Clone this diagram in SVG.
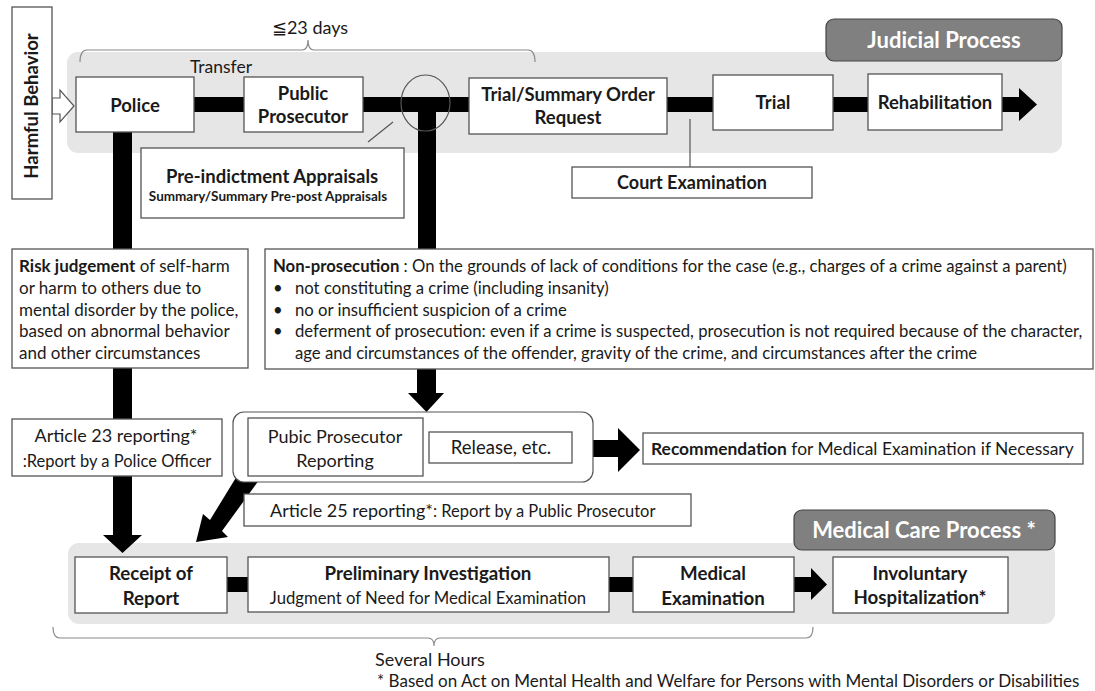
<svg xmlns="http://www.w3.org/2000/svg" width="1095" height="691" viewBox="0 0 1095 691">
<style>
text{font-family:Lato,"Liberation Sans",sans-serif;fill:#1a1a1a}
.b{font-weight:bold}
.box{fill:#fff;stroke:#555;stroke-width:1.3}
.region{fill:#e6e6e6}
.label{fill:#808080;stroke:#444;stroke-width:1.2}
.lt{fill:#fff;font-weight:bold;font-size:22px}
.c{text-anchor:middle}
.br{fill:none;stroke:#8a8a8a;stroke-width:1.2}
.k{fill:#000}
.n{font-size:17px}
.m{font-size:16.7px}
</style>
<rect class="region" x="67" y="52" width="995" height="101" rx="11"/>
<rect class="region" x="68" y="543" width="987" height="81" rx="11"/>
<path class="br" d="M80,62 Q80,50 87,50 L302,50 Q308,50 308,40 Q308,50 314,50 L528,50 Q535,50 535,62"/>
<path class="br" d="M53,627 Q53,638 60,638 L428,638 Q434,638 434,646 Q434,638 440,638 L806,638 Q813,638 813,627"/>
<g id="judicial-label"><rect class="label" x="826" y="19" width="236" height="42" rx="8"/><text class="lt c" x="944" y="48">Judicial Process</text></g>
<g id="medical-label"><rect class="label" x="794" y="510" width="261" height="40" rx="8"/><text class="lt c" x="924" y="538">Medical Care Process *</text></g>
<text x="310" y="34" class="c" font-size="18">≦23 days</text>
<text x="221" y="73" class="c" font-size="17.5">Transfer</text>
<text x="430" y="666" class="c" font-size="18">Several Hours</text>
<text x="377" y="687" font-size="17">* Based on Act on Mental Health and Welfare for Persons with Mental Disorders or Disabilities</text>
<g id="connectors">
<polygon points="52,98 60,98 60,90 74,106 60,122 60,114 52,114" fill="#fff" stroke="#555" stroke-width="1.2"/>
<rect class="k" x="194" y="97" width="50" height="15"/>
<rect class="k" x="363" y="97" width="107" height="15"/>
<rect class="k" x="418" y="104" width="18" height="145"/>
<rect class="k" x="667" y="97" width="46" height="15"/>
<rect class="k" x="833" y="97" width="35" height="15"/>
<polygon class="k" points="1002,97 1019,97 1019,88 1037,104.5 1019,121 1019,112 1002,112"/>
<ellipse cx="425.5" cy="103" rx="24.5" ry="28" fill="none" stroke="#555" stroke-width="1.2"/>
<line x1="368" y1="142" x2="393" y2="122" stroke="#555" stroke-width="1.2"/>
<line x1="690" y1="119" x2="690" y2="167" stroke="#555" stroke-width="1.2"/>
<rect class="k" x="113" y="132" width="19" height="117"/>
<rect class="k" x="113" y="368" width="19" height="52"/>
<polygon class="k" points="417,369 436,369 436,393 444,393 426.5,412 408,393 417,393"/>
<polygon class="k" points="113,476 132,476 132,535 142,535 122.5,553 103,535 113,535"/>
<polygon class="k" points="593,440 618,440 618,428 640,450 618,472 618,457 593,457"/>
<polygon class="k" points="248,458 262,476 222,531 228,537 196,542 203,514 210,520"/>
<rect class="k" x="227" y="577" width="21" height="15"/>
<rect class="k" x="609" y="577" width="24" height="15"/>
<polygon class="k" points="794,577 811,577 811,568 827,584.5 811,600 811,592 794,592"/>
</g>
<g id="harmful"><rect class="box" x="12" y="7" width="40" height="192"/><text class="b c" font-size="18.5" transform="translate(38,106) rotate(-90)">Harmful Behavior</text></g>
<g id="police"><rect class="box" x="76" y="77" width="118" height="55"/><text class="b c" x="135" y="112" font-size="18.5">Police</text></g>
<g id="prosecutor"><rect class="box" x="244" y="77" width="119" height="55"/><text class="b c" x="303" y="100" font-size="18.5">Public</text><text class="b c" x="303" y="123" font-size="18.5">Prosecutor</text></g>
<g id="trial-request"><rect class="box" x="469" y="78" width="198" height="56"/><text class="b c" x="568" y="101" font-size="18.5">Trial/Summary Order</text><text class="b c" x="568" y="124" font-size="18.5">Request</text></g>
<g id="trial"><rect class="box" x="713" y="75" width="120" height="55"/><text class="b c" x="773" y="109" font-size="18.5">Trial</text></g>
<g id="rehab"><rect class="box" x="868" y="74" width="134" height="56"/><text class="b c" x="935" y="109" font-size="18.5">Rehabilitation</text></g>
<g id="court"><rect class="box" x="572" y="167" width="240" height="31"/><text class="b c" x="692" y="189" font-size="18">Court Examination</text></g>
<g id="appraisal"><rect class="box" x="141" y="148" width="263" height="70"/><text class="b c" x="272" y="183" font-size="18.5">Pre-indictment Appraisals</text><text class="b c" x="268" y="201" font-size="13.5">Summary/Summary Pre-post Appraisals</text></g>
<g id="risk"><rect class="box" x="12" y="249" width="236" height="119"/>
<text x="19" y="272" class="n"><tspan class="b">Risk judgement</tspan> of self-harm</text>
<text x="19" y="294" class="n">or harm to others due to</text>
<text x="19" y="316" class="n">mental disorder by the police,</text>
<text x="19" y="337" class="n">based on abnormal behavior</text>
<text x="19" y="359" class="n">and other circumstances</text></g>
<g id="nonpros"><rect class="box" x="265" y="249" width="828" height="120"/>
<text x="273" y="272" class="m"><tspan class="b">Non-prosecution</tspan> : On the grounds of lack of conditions for the case (e.g., charges of a crime against a parent)</text>
<text x="273" y="294" class="m">•</text><text x="295" y="294" class="m">not constituting a crime (including insanity)</text>
<text x="273" y="316" class="m">•</text><text x="295" y="316" class="m">no or insufficient suspicion of a crime</text>
<text x="273" y="337" class="m">•</text><text x="295" y="337" class="m">deferment of prosecution: even if a crime is suspected, prosecution is not required because of the character,</text>
<text x="295" y="359" class="m">age and circumstances of the offender, gravity of the crime, and circumstances after the crime</text></g>
<g id="pp-group"><rect x="233" y="412" width="360" height="70" rx="11" fill="#fff" stroke="#555" stroke-width="1.2"/></g>
<g id="pp-report"><rect class="box" x="248" y="418" width="175" height="58"/><text class="c" x="335" y="443" font-size="18">Pubic Prosecutor</text><text class="c" x="335" y="467" font-size="18">Reporting</text></g>
<g id="release"><rect class="box" x="429" y="432" width="143" height="31"/><text class="c" x="501" y="454" font-size="18.5">Release, etc.</text></g>
<g id="recommend"><rect class="box" x="643" y="433" width="440" height="31"/><text x="651" y="455" font-size="17.4"><tspan class="b">Recommendation</tspan> for Medical Examination if Necessary</text></g>
<g id="art23"><rect class="box" x="12" y="419" width="210" height="57"/><text class="c" x="116" y="442" font-size="18">Article 23 reporting*</text><text class="c" x="117" y="467" font-size="16.5">:Report by a Police Officer</text></g>
<g id="art25"><rect class="box" x="244" y="494" width="447" height="32"/><text x="270" y="517" font-size="18">Article 25 reporting*<tspan font-size="16.5">: Report by a Public Prosecutor</tspan></text></g>
<g id="receipt"><rect class="box" x="75" y="557" width="152" height="56"/><text class="b c" x="151" y="580" font-size="18.7">Receipt of</text><text class="b c" x="151" y="605" font-size="18.7">Report</text></g>
<g id="prelim"><rect class="box" x="248" y="557" width="361" height="55"/><text class="b c" x="428" y="580" font-size="18.7">Preliminary Investigation</text><text class="c" x="428" y="604" font-size="16.7">Judgment of Need for Medical Examination</text></g>
<g id="medexam"><rect class="box" x="633" y="557" width="161" height="55"/><text class="b c" x="713" y="580" font-size="18.7">Medical</text><text class="b c" x="713" y="605" font-size="18.7">Examination</text></g>
<g id="involuntary"><rect class="box" x="833" y="557" width="175" height="56"/><text class="b c" x="920" y="580" font-size="18.7">Involuntary</text><text class="b c" x="920" y="604" font-size="18.7">Hospitalization*</text></g>
</svg>
